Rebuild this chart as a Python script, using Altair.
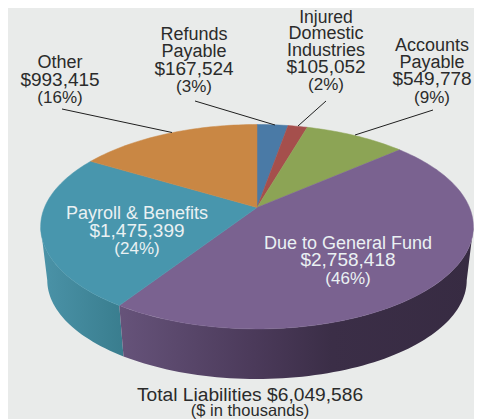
import math
import altair as alt
import pandas as pd

names = ["Refunds Payable", "Injured Domestic Industries", "Accounts Payable",
         "Due to General Fund", "Payroll & Benefits", "Other"]
values = [167524, 105052, 549778, 2758418, 1475399, 993415]
colors = ["#4a7aa6", "#a54f4c", "#8ca455", "#7a6290", "#4896ad", "#c98744"]

DARK = "#2b2b2b"
LIGHT = "#eaf1f3"
label_rows = [
    # text, x, y, colour of text, size
    ("Other", 60, 68, DARK, 18), ("$993,415", 60, 86, DARK, 19), ("(16%)", 60, 103, DARK, 17),
    ("Refunds", 194, 40, DARK, 18), ("Payable", 194, 57, DARK, 18),
    ("$167,524", 194, 75, DARK, 19), ("(3%)", 194, 92, DARK, 17),
    ("Injured", 326, 23, DARK, 17.5), ("Domestic", 326, 39, DARK, 18), ("Industries", 326, 56, DARK, 18),
    ("$105,052", 326, 73, DARK, 19), ("(2%)", 326, 90, DARK, 17),
    ("Accounts", 432, 51, DARK, 18), ("Payable", 432, 68, DARK, 18),
    ("$549,778", 432, 85, DARK, 19), ("(9%)", 432, 103, DARK, 17),
    ("Payroll & Benefits", 137, 219, LIGHT, 18), ("$1,475,399", 137, 237, LIGHT, 19), ("(24%)", 137, 254, LIGHT, 17),
    ("Due to General Fund", 348, 249, LIGHT, 18), ("$2,758,418", 348, 266, LIGHT, 19), ("(46%)", 348, 284, LIGHT, 17),
    ("Total Liabilities $6,049,586", 250, 401, DARK, 19.2), ("($ in thousands)", 250, 416, DARK, 16.5),
]
leaders = [
    (62, 109, 172, 132.5),
    (195, 101, 275, 125),
    (326, 101, 298, 126),
    (433, 110, 355, 135),
]

BG = "#e9ebea"
CX = 257.0
K = 0.188
TOP = dict(b=212.5, a=98.6, cy=207.5)
BOT = dict(b=206.0, a=95.3, cy=261.6)
RIGHT_TANGENT = math.degrees(math.acos(-K))
LEFT_TANGENT = 360.0 - RIGHT_TANGENT


def pt(deg, plane):
    t = math.radians(deg)
    u, v = math.sin(t), math.cos(t)
    d = 1 + K * v
    return [CX + plane["b"] * u / d, plane["cy"] - plane["a"] * v / d]


def arc(a0, a1, plane):
    n = max(2, int(abs(a1 - a0) / 1.5) + 1)
    return [pt(a0 + (a1 - a0) * i / n, plane) for i in range(n + 1)]


def feature(ring, name):
    ring = ring + [ring[0]]
    return {"type": "Feature", "properties": {"name": name},
            "geometry": {"type": "Polygon", "coordinates": [ring]}}


total = sum(values)
edges = [0.0]
for v in values:
    edges.append(edges[-1] + 360.0 * v / total)

PROJ = dict(type="identity", scale=1, translate=[-8, -8])


def shape(feat, **kw):
    return alt.Chart(alt.Data(values=[feat])).mark_geoshape(**kw).project(**PROJ)


purple_grad = alt.Gradient(
    gradient="linear", x1=0, y1=0, x2=1, y2=0,
    stops=[alt.GradientStop(offset=0, color="#66537a"),
           alt.GradientStop(offset=0.38, color="#4b3a5a"),
           alt.GradientStop(offset=0.6, color="#3b2e47"),
           alt.GradientStop(offset=1, color="#372b42")])
teal_grad = alt.Gradient(
    gradient="linear", x1=0, y1=0, x2=1, y2=0,
    stops=[alt.GradientStop(offset=0, color="#4b93a8"),
           alt.GradientStop(offset=1, color="#397d8e")])

layers = []
# sides (only the two front slices show); each runs to the silhouette tangent
layers.append(shape(feature(arc(edges[4], LEFT_TANGENT, TOP) + arc(LEFT_TANGENT, edges[4], BOT), names[4]),
                    fill=teal_grad, strokeWidth=0))
layers.append(shape(feature(arc(RIGHT_TANGENT, edges[4], TOP) + arc(edges[4], RIGHT_TANGENT, BOT), names[3]),
                    fill=purple_grad, strokeWidth=0))
# top faces
for i, (n, c) in enumerate(zip(names, colors)):
    ring = [pt(0, dict(TOP, b=0, a=0))] + arc(edges[i], edges[i + 1], TOP)
    layers.append(shape(feature(ring, n), fill=c, stroke=c, strokeWidth=0.5))

lead = pd.DataFrame(leaders, columns=["x1", "y1", "x2", "y2"])
layers.append(alt.Chart(lead).mark_rule(color="#1f1f1f", strokeWidth=1).encode(
    longitude="x1:Q", latitude="y1:Q", longitude2="x2:Q", latitude2="y2:Q").project(**PROJ))

lab = pd.DataFrame(label_rows, columns=["text", "x", "y", "color", "size"])
layers.append(alt.Chart(lab).mark_text(
    font="Liberation Sans", align="center", baseline="alphabetic"
).encode(
    longitude="x:Q", latitude="y:Q", text="text:N",
    color=alt.Color("color:N", scale=None),
    size=alt.Size("size:Q", scale=None),
).project(**PROJ))

chart = alt.layer(*layers).properties(
    width=466, height=411, padding=0, background=BG,
    autosize=alt.AutoSizeParams(type="none"),
).configure_view(stroke=None)

chart.save("out.html", embed_options={"renderer": "svg", "actions": False})
